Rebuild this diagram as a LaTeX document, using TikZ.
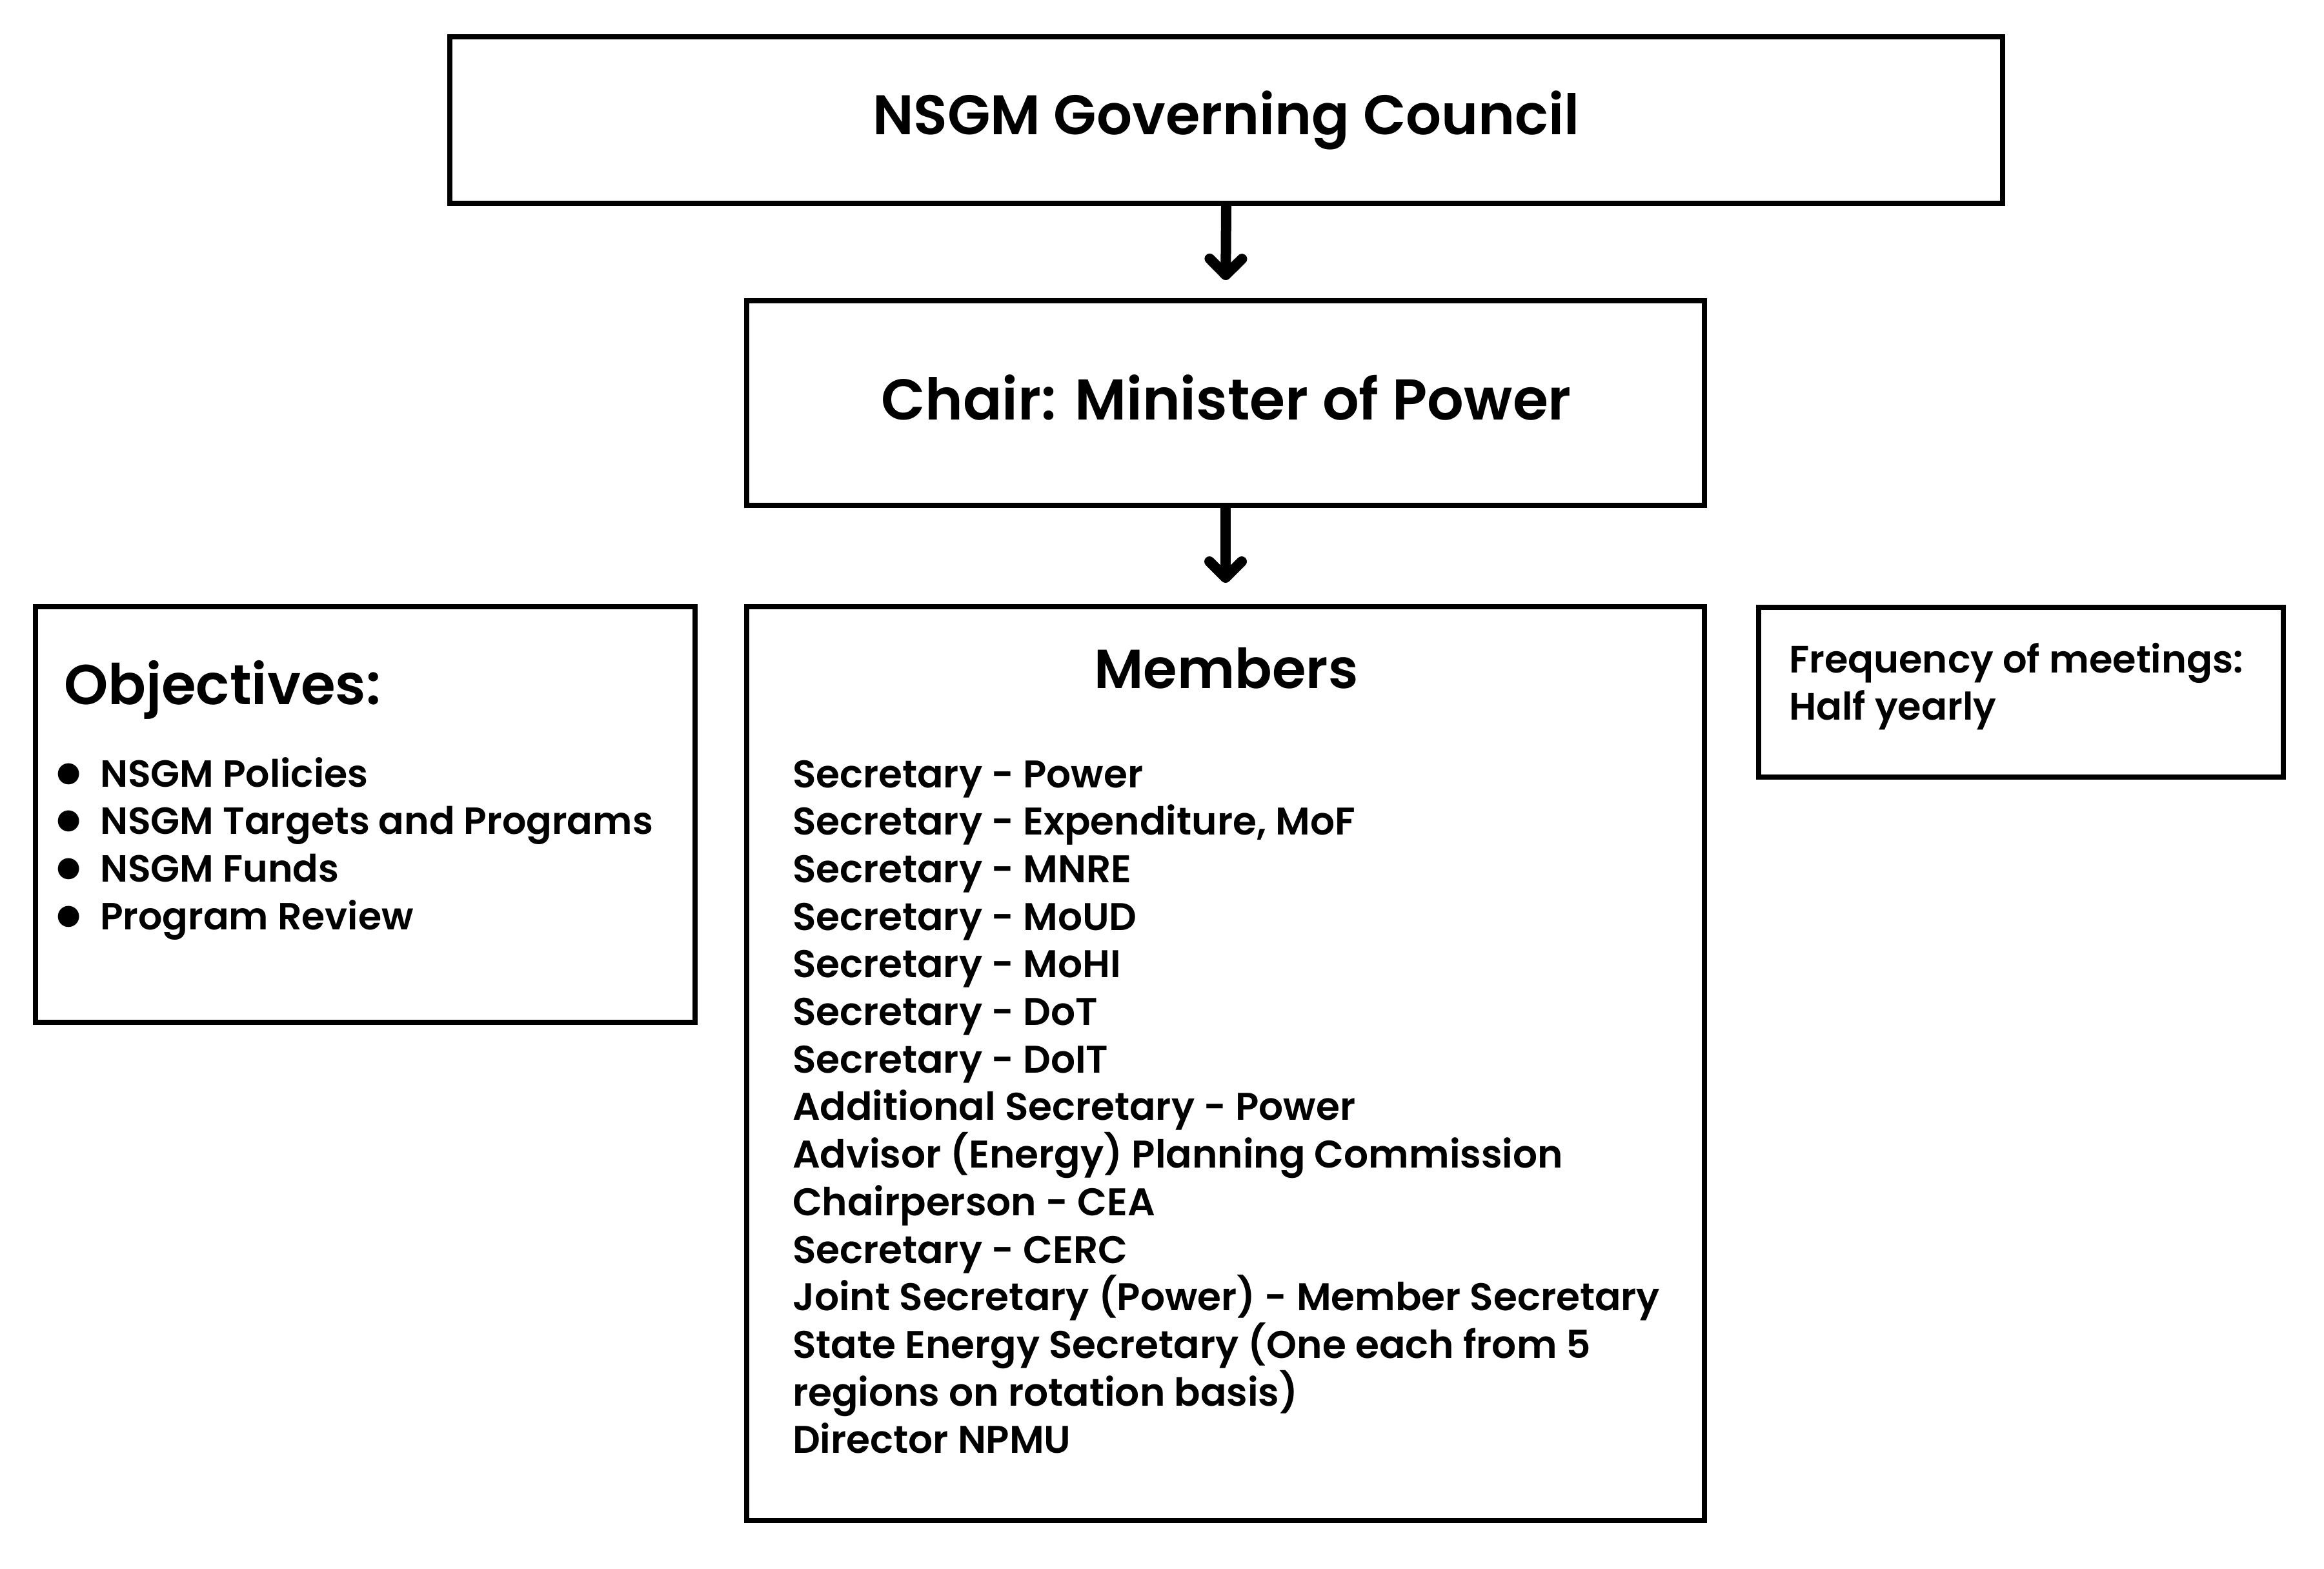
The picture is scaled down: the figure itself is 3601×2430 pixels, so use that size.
\documentclass[tikz,border=0pt]{standalone}
\usepackage{fontspec}
\setmainfont{Poppins}[BoldFont={Poppins SemiBold}]
\usetikzlibrary{arrows.meta}
\newlength\fitw
\newcommand\fitfont[3]{\settowidth\fitw{\fontsize{10pt}{12pt}\selectfont\bfseries #3}\pgfmathsetmacro#1{10*#2/\fitw}}
\begin{document}
\fitfont{\titlesz}{219.2}{NSGM Governing Council}%
\fitfont{\chairsz}{214}{Chair: Minister of Power}%
\fitfont{\headsz}{81.8}{Members}%
\fitfont{\objsz}{98.2}{Objectives:}%
\fitfont{\listsz}{268.8}{Joint Secretary (Power) - Member Secretary}%
\fitfont{\bulsz}{171.4}{NSGM Targets and Programs}%
\fitfont{\freqsz}{140.8}{Frequency of meetings:}%
\pgfmathsetmacro\dotsz{2.0*\bulsz}%
\begin{tikzpicture}[x=0.2pt,y=-0.2pt,
  box/.style={draw=black,line width=1.6pt,rectangle,inner sep=0pt},
  arr/.style={line width=3.2pt,-{Straight Barb[length=5pt,width=10pt,line cap=round,line join=round]}},
  txt/.style={inner sep=0pt,outer sep=0pt},
  titlef/.style={font=\fontsize{\titlesz pt}{\titlesz pt}\selectfont\bfseries},
  chairf/.style={font=\fontsize{\chairsz pt}{\chairsz pt}\selectfont\bfseries},
  headf/.style={font=\fontsize{\headsz pt}{\headsz pt}\selectfont\bfseries},
  objf/.style={font=\fontsize{\objsz pt}{\objsz pt}\selectfont\bfseries},
  listf/.style={font=\fontsize{\listsz pt}{\listsz pt}\selectfont\bfseries},
  bulf/.style={font=\fontsize{\bulsz pt}{\bulsz pt}\selectfont\bfseries},
  dotf/.style={font=\fontsize{\dotsz pt}{\dotsz pt}\selectfont\bfseries,text height=0pt,text depth=0pt},
  freqf/.style={font=\fontsize{\freqsz pt}{\freqsz pt}\selectfont\bfseries}]
\fill[white] (0,0) rectangle (3601,2430);
\useasboundingbox (0,0) rectangle (3601,2430);

% boxes
\node[box,minimum width=2406*0.2pt,minimum height=258*0.2pt] (gc) at (1900,186) {};
\node[box,minimum width=1484*0.2pt,minimum height=317*0.2pt] (chair) at (1899,624.5) {};
\node[box,minimum width=1484*0.2pt,minimum height=1416*0.2pt] (mem) at (1899,1648) {};
\node[box,minimum width=1022*0.2pt,minimum height=644*0.2pt] (obj) at (566,1262) {};
\node[box,minimum width=813*0.2pt,minimum height=263*0.2pt] (freq) at (3131.5,1072.5) {};

% arrows
\draw[arr,shorten >=5.6pt] (gc.south) -- (chair.north);
\draw[arr,shorten >=6.6pt] (chair.south) -- (mem.north);

% texts
\node[txt,titlef,anchor=base] (gct) at (1900,208) {NSGM Governing Council};
\node[txt,chairf,anchor=base] (chairt) at (1900,650) {Chair: Minister of Power};
\node[txt,headf,anchor=base] (memt) at (1900,1066) {Members};
\node[txt,objf,anchor=base west] (objt) at (99,1091) {Objectives:};

\foreach \t [count=\i] in {NSGM Policies,NSGM Targets and Programs,NSGM Funds,Program Review}{
  \node[txt,dotf,anchor=base] (b\i) at (107,{1238+73.8*(\i-1)}) {•};
  \node[txt,bulf,anchor=base west] (o\i) at (155,{1219+73.8*(\i-1)}) {\t};
}

\foreach \t [count=\i] in {Secretary - Power,{Secretary - Expenditure, MoF},Secretary - MNRE,Secretary - MoUD,Secretary - MoHI,Secretary - DoT,Secretary - DoIT,Additional Secretary - Power,Advisor (Energy) Planning Commission,Chairperson - CEA,Secretary - CERC,Joint Secretary (Power) - Member Secretary,State Energy Secretary (One each from 5,regions on rotation basis),Director NPMU}{
  \node[txt,listf,anchor=base west] (m\i) at (1228,{1220+73.7*(\i-1)}) {\t};
}

\node[txt,freqf,anchor=base west] (f1) at (2772,1042) {Frequency of meetings:};
\node[txt,freqf,anchor=base west] (f2) at (2772,1115) {Half yearly};
\end{tikzpicture}
\end{document}
